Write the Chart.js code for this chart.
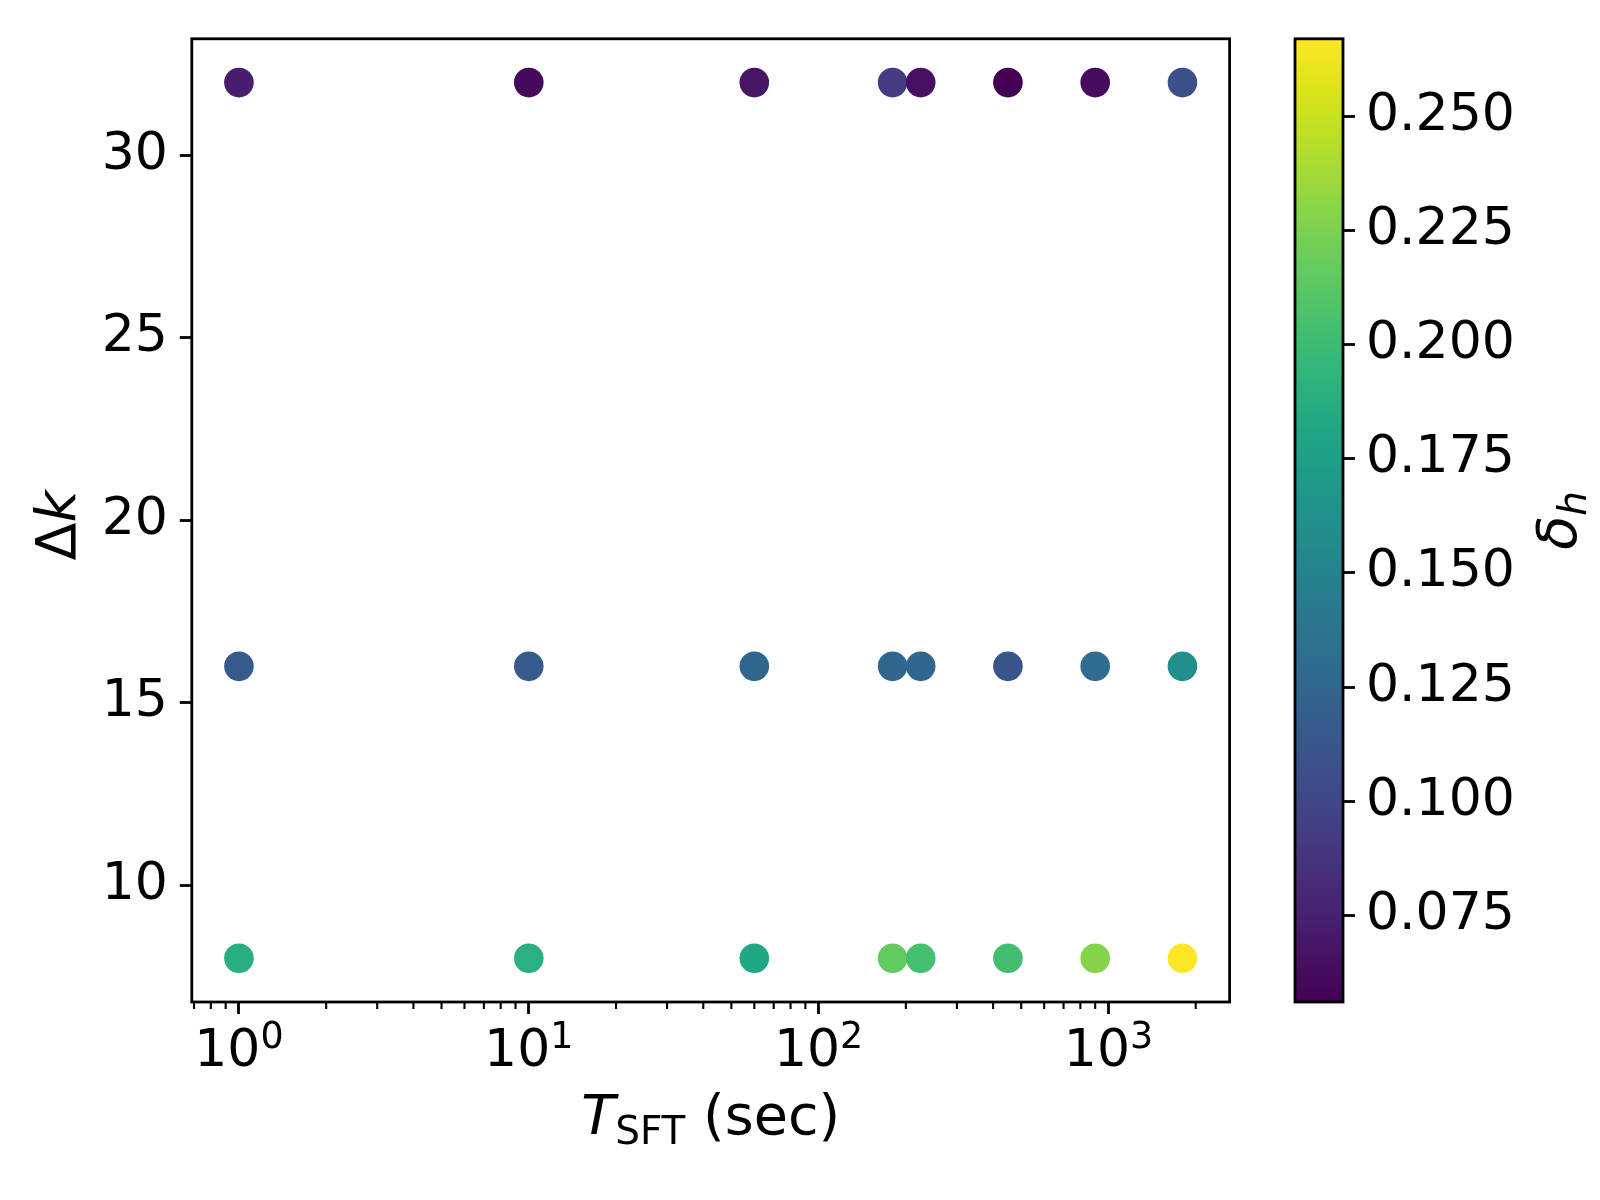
<!DOCTYPE html>
<html>
<head>
<meta charset="utf-8">
<script src="https://cdn.jsdelivr.net/npm/chart.js@4.4.0/dist/chart.umd.min.js"></script>
<style>
  html, body { margin: 0; padding: 0; background: #fff; }
  #wrap { position: relative; width: 1600px; height: 1200px; }
  canvas { position: absolute; left: 0; top: 0; }
</style>
</head>
<body>
<div id="wrap">
  <canvas id="plot" width="1600" height="1200"></canvas>
  <canvas id="cbar" width="1600" height="1200"></canvas>
</div>
<script>
// T_SFT (sec), same for every row
const tsft = [1, 10, 60, 180, 225, 450, 900, 1800];
const dkRows = [32, 16, 8];
// delta_h, one list per Δk row
const dh32 = [0.073, 0.061, 0.067, 0.092, 0.065, 0.056, 0.062, 0.107];
const dh16 = [0.115, 0.115, 0.126, 0.126, 0.126, 0.111, 0.130, 0.160];
const dh8  = [0.188, 0.189, 0.182, 0.216, 0.204, 0.203, 0.228, 0.267];
const dhRows = [dh32, dh16, dh8];

const xTicks = [1, 10, 100, 1000];
const xTickExp = ['0', '1', '2', '3'];
const yTicks = [10, 15, 20, 25, 30];
const cbTicks = [0.075, 0.1, 0.125, 0.15, 0.175, 0.2, 0.225, 0.25];

const xMin = 0.6877, xMax = 2618;
const yMin = 6.8, yMax = 33.2;
const cbMin = Math.min(...dh32, ...dh16, ...dh8);
const cbMax = Math.max(...dh32, ...dh16, ...dh8);

const viridis = ['#440154','#471365','#482475','#463480','#414487','#3b528b','#355f8d',
  '#2f6c8e','#2a788e','#25848e','#21918c','#1e9c89','#22a884','#2fb47c','#44bf70',
  '#5ec962','#7ad151','#9bd93c','#bddf26','#dfe318','#fde725'];

function hex2rgb(h) {
  return [parseInt(h.slice(1,3),16), parseInt(h.slice(3,5),16), parseInt(h.slice(5,7),16)];
}
function viridisAt(t) {
  t = Math.max(0, Math.min(1, t));
  const p = t * (viridis.length - 1);
  const i = Math.min(Math.floor(p), viridis.length - 2);
  const f = p - i;
  const a = hex2rgb(viridis[i]), b = hex2rgb(viridis[i + 1]);
  const c = a.map((v, k) => Math.round(v + (b[k] - v) * f));
  return 'rgb(' + c.join(',') + ')';
}

const points = [];
const colors = [];
dkRows.forEach((dk, r) => {
  tsft.forEach((t, i) => {
    points.push({x: t, y: dk});
    colors.push(viridisAt((dhRows[r][i] - cbMin) / (cbMax - cbMin)));
  });
});

Chart.defaults.color = '#000';
Chart.defaults.font.family = '"DejaVu Sans"';

const FONT = 52;     // tick labels
const LFONT = 55.6;  // axis labels
const frame = {left: 191.8, right: 1229.6, top: 38.8, bottom: 1002};

function drawParts(ctx, parts, cx, baseline) {
  let total = 0;
  parts.forEach(p => { ctx.font = p.font; p.w = ctx.measureText(p.text).width; total += p.w; });
  let x = cx - total / 2;
  parts.forEach(p => {
    ctx.font = p.font;
    ctx.fillText(p.text, x, baseline + (p.dy || 0));
    x += p.w;
  });
}

const framePlugin = {
  id: 'frame',
  afterDraw(chart) {
    const {ctx, chartArea: a, scales} = chart;
    ctx.save();
    ctx.strokeStyle = '#000';
    ctx.fillStyle = '#000';
    // minor log ticks
    ctx.lineWidth = 2.1;
    for (let n = -1; n <= 3; n++) {
      for (let k = 2; k <= 9; k++) {
        const v = k * Math.pow(10, n);
        if (v < xMin || v > xMax) continue;
        const px = scales.x.getPixelForValue(v);
        ctx.beginPath();
        ctx.moveTo(px, a.bottom);
        ctx.lineTo(px, a.bottom + 7);
        ctx.stroke();
      }
    }
    // spines
    ctx.lineWidth = 2.8;
    ctx.strokeRect(a.left, a.top, a.right - a.left, a.bottom - a.top);
    ctx.textAlign = 'left';
    ctx.textBaseline = 'alphabetic';
    // x tick labels 10^n
    xTicks.forEach((v, i) => {
      drawParts(ctx, [
        {text: '10', font: FONT + 'px "DejaVu Sans"'},
        {text: xTickExp[i], font: (FONT * 0.7) + 'px "DejaVu Sans"', dy: -18}
      ], scales.x.getPixelForValue(v), 1066);
    });
    // axis titles
    drawParts(ctx, [
      {text: 'T', font: 'italic ' + LFONT + 'px "DejaVu Sans"'},
      {text: 'SFT', font: (LFONT * 0.7) + 'px "DejaVu Sans"', dy: 9.5},
      {text: ' (sec)', font: LFONT + 'px "DejaVu Sans"'}
    ], (a.left + a.right) / 2, 1134);
    ctx.translate(75, (a.top + a.bottom) / 2 + 5);
    ctx.rotate(-Math.PI / 2);
    drawParts(ctx, [
      {text: 'Δ', font: LFONT + 'px "DejaVu Sans"'},
      {text: 'k', font: 'italic ' + LFONT + 'px "DejaVu Sans"'}
    ], 0, 0);
    ctx.restore();
  }
};

new Chart(document.getElementById('plot'), {
  type: 'scatter',
  data: {
    datasets: [{
      data: points,
      pointBackgroundColor: colors,
      pointBorderWidth: 0,
      pointRadius: 14.8,
      pointHoverRadius: 14.8
    }]
  },
  options: {
    responsive: false,
    devicePixelRatio: 1,
    animation: false,
    events: [],
    layout: {padding: {left: 0, top: frame.top, right: 1600 - frame.right, bottom: 0}},
    plugins: {legend: {display: false}, tooltip: {enabled: false}},
    scales: {
      x: {
        type: 'logarithmic',
        min: xMin, max: xMax,
        bounds: 'data',
        afterBuildTicks: s => { s.ticks = xTicks.map(v => ({value: v, major: true})); },
        afterFit: s => { s.height = 1200 - frame.bottom; },
        border: {display: false},
        grid: {drawOnChartArea: false, drawTicks: true, tickLength: 12, tickWidth: 2.8, tickColor: '#000'},
        ticks: {
          autoSkip: false, maxRotation: 0, padding: 2,
          font: {size: FONT, lineHeight: 0.8},
          callback: () => ''
        }
      },
      y: {
        type: 'linear',
        min: yMin, max: yMax,
        bounds: 'data',
        afterBuildTicks: s => { s.ticks = yTicks.map(v => ({value: v})); },
        afterFit: s => { s.width = frame.left; },
        border: {display: false},
        grid: {drawOnChartArea: false, drawTicks: true, tickLength: 12, tickWidth: 2.8, tickColor: '#000'},
        ticks: {autoSkip: false, padding: 12, font: {size: FONT, lineHeight: 0.8}, callback: v => String(v)}
      }
    }
  },
  plugins: [framePlugin]
});

// colour bar
const cb = {left: 1295, right: 1343};

const cbarPlugin = {
  id: 'cbarFrame',
  afterDraw(chart) {
    const {ctx, chartArea: a} = chart;
    ctx.save();
    ctx.strokeStyle = '#000';
    ctx.fillStyle = '#000';
    ctx.lineWidth = 2.8;
    ctx.strokeRect(a.left, a.top, a.right - a.left, a.bottom - a.top);
    ctx.textAlign = 'left';
    ctx.textBaseline = 'alphabetic';
    ctx.translate(1576, (a.top + a.bottom) / 2);
    ctx.rotate(-Math.PI / 2);
    drawParts(ctx, [
      {text: 'δ', font: 'italic ' + LFONT + 'px "DejaVu Sans"'},
      {text: 'h', font: 'italic ' + (LFONT * 0.7) + 'px "DejaVu Sans"', dy: 9.5}
    ], 0, 0);
    ctx.restore();
  }
};

new Chart(document.getElementById('cbar'), {
  type: 'bar',
  data: {
    labels: ['δh'],
    datasets: [{
      data: [[cbMin, cbMax]],
      borderWidth: 0,
      barPercentage: 1,
      categoryPercentage: 1,
      backgroundColor: c => {
        const {chart} = c;
        if (!chart.chartArea) return '#21918c';
        const y = chart.scales.y;
        const g = chart.ctx.createLinearGradient(0, y.getPixelForValue(cbMin), 0, y.getPixelForValue(cbMax));
        viridis.forEach((col, i) => g.addColorStop(i / (viridis.length - 1), col));
        return g;
      }
    }]
  },
  options: {
    responsive: false,
    devicePixelRatio: 1,
    animation: false,
    events: [],
    layout: {padding: {left: cb.left, top: frame.top, right: 0, bottom: 1200 - frame.bottom}},
    plugins: {legend: {display: false}, tooltip: {enabled: false}},
    scales: {
      x: {display: false},
      y: {
        position: 'right',
        min: cbMin, max: cbMax,
        bounds: 'data',
        afterBuildTicks: s => { s.ticks = cbTicks.map(v => ({value: v})); },
        afterFit: s => { s.width = 1600 - cb.right; },
        border: {display: false},
        grid: {drawOnChartArea: false, drawTicks: true, tickLength: 12, tickWidth: 2.8, tickColor: '#000'},
        ticks: {autoSkip: false, padding: 11, font: {size: FONT, lineHeight: 0.8}, callback: v => v.toFixed(3)}
      }
    }
  },
  plugins: [cbarPlugin]
});
</script>
</body>
</html>
